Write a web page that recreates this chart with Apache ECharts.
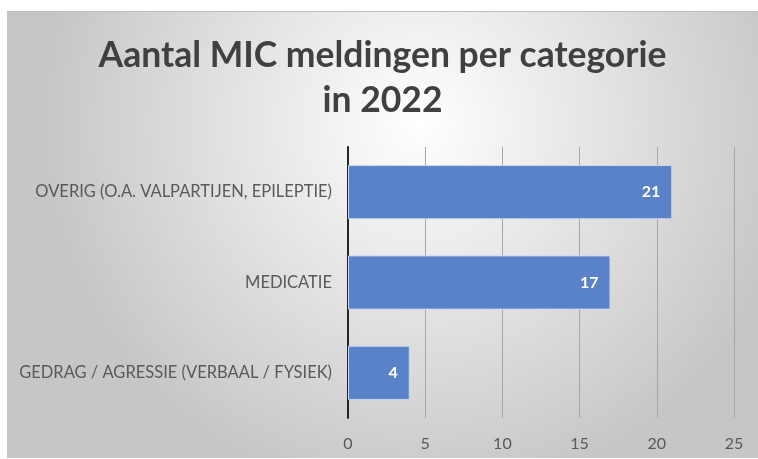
<!DOCTYPE html>
<html>
<head>
<meta charset="utf-8">
<script src="https://cdn.jsdelivr.net/npm/echarts@6/dist/echarts.min.js"></script>
<style>
  html, body { margin: 0; padding: 0; background: #fff; }
  #chart { position: absolute; left: 7px; top: 11px; width: 751px; height: 447px; border-top: 1px solid #bdbdbd; box-sizing: border-box; }
</style>
</head>
<body>
<div id="chart"></div>
<script>
// categorieën (van onder naar boven, zoals de as ze tekent)
var categories = ['GEDRAG / AGRESSIE (VERBAAL / FYSIEK)', 'MEDICATIE', 'OVERIG (O.A. VALPARTIJEN, EPILEPTIE)'];
// aantal meldingen
var counts = [4, 17, 21];
var xTicks = [0, 5, 10, 15, 20, 25];

var chart = echarts.init(document.getElementById('chart'));

var option = {
    backgroundColor: {
        type: 'radial',
        x: 0.55, y: 0.25, r: 0.85,
        colorStops: [
            { offset: 0, color: '#ffffff' },
            { offset: 1, color: '#c6c6c6' }
        ]
    },
    title: {
        text: 'Aantal MIC meldingen per categorie\nin 2022',
        left: 'center',
        top: 16,
        textStyle: {
            fontFamily: 'Lato',
            fontWeight: 'bold',
            fontSize: 35.5,
            lineHeight: 45,
            color: '#404040'
        }
    },
    grid: {
        left: 341,
        right: 24,
        top: 135,
        bottom: 40
    },
    xAxis: {
        type: 'value',
        min: xTicks[0],
        max: xTicks[xTicks.length - 1],
        interval: 5,
        axisLine: { show: false },
        axisTick: { show: false },
        axisLabel: {
            margin: 18,
            fontFamily: 'Lato',
            fontSize: 16,
            color: '#595959'
        },
        splitLine: { lineStyle: { color: '#a6a6a6', width: 1 } }
    },
    yAxis: {
        type: 'category',
        data: categories,
        axisLine: { lineStyle: { color: '#262626', width: 2 } },
        axisTick: { show: false },
        axisLabel: {
            margin: 16,
            fontFamily: 'Lato',
            fontSize: 16.5,
            color: '#595959'
        }
    },
    series: [{
        name: 'Aantal',
        type: 'bar',
        data: counts,
        barWidth: '60%',
        itemStyle: {
            color: '#5a82c9',
            borderColor: '#cbd6ee',
            borderWidth: 1
        },
        label: {
            show: true,
            position: 'insideRight',
            distance: 12,
            fontFamily: 'Lato',
            fontWeight: 'bold',
            fontSize: 16,
            color: '#ffffff'
        }
    }]
};

chart.setOption(option);
</script>
</body>
</html>
